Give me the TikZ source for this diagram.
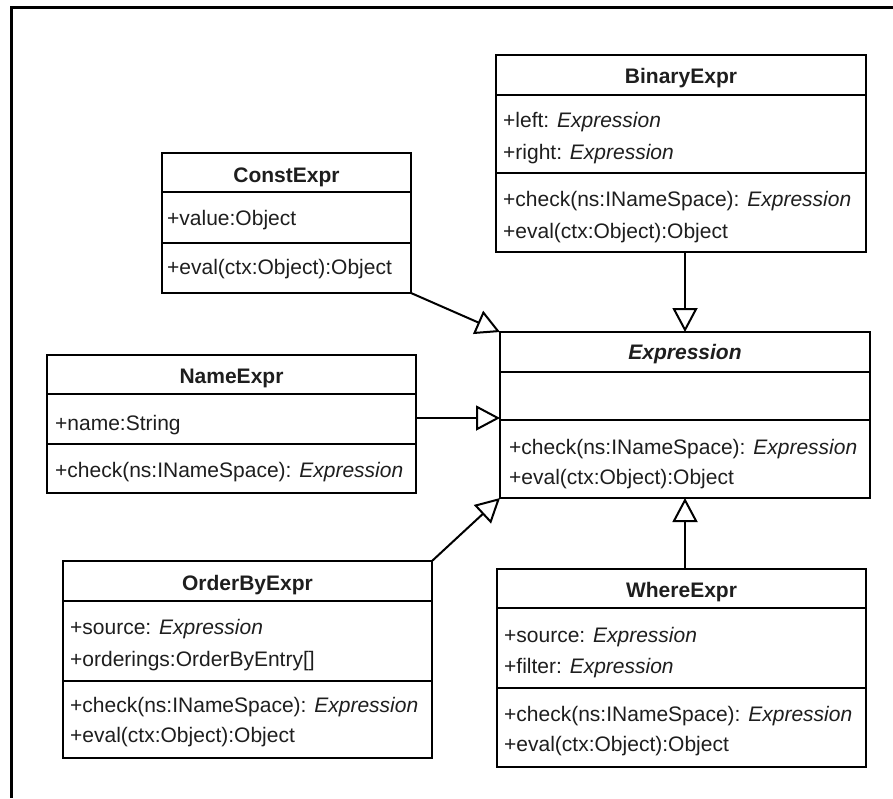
\documentclass[tikz,border=0pt]{standalone}
\usepackage{fontspec}
\setmainfont{Liberation Sans}
\usetikzlibrary{arrows.meta,calc}
\definecolor{textgray}{HTML}{1E1E1E}
\begin{document}
\begin{tikzpicture}[x=1pt,y=-1pt,
  classbox/.style={draw=black, line width=2pt, inner sep=0pt, outer sep=0pt,
    anchor=north west, fill=white},
  divider/.style={draw=black, line width=2pt},
  classname/.style={anchor=base, inner sep=0pt,
    font=\fontsize{21}{25}\selectfont\bfseries, text=textgray},
  member/.style={anchor=base west, inner sep=0pt,
    font=\fontsize{21}{25}\selectfont, text=textgray},
  inherit/.style={draw=black, line width=2pt,
    -{Triangle[open,length=24pt,width=25pt]}},
  frameline/.style={draw=black, line width=3.5pt}
]
\useasboundingbox (0,0) rectangle (893,798);

% outer frame
\draw[frameline] (893,7.5) -- (11.5,7.5) -- (11.5,798);

% ---------- BinaryExpr ----------
\node[classbox, minimum width=370pt, minimum height=197pt] (binary) at (496,55) {};
\draw[divider] (binary.west |- 0,95) -- (binary.east |- 0,95);
\draw[divider] (binary.west |- 0,173) -- (binary.east |- 0,173);
\node[classname] (binaryTitle) at (binary.north |- 0,83) {BinaryExpr};
\node[member] (binaryLeft)  at (503,127.5) {+left: \textit{Expression}};
\node[member] (binaryRight) at (503,159.5) {+right: \textit{Expression}};
\node[member] (binaryCheck) at (503,206)   {+check(ns:INameSpace): \textit{Expression}};
\node[member] (binaryEval)  at (503,238)   {+eval(ctx:Object):Object};

% ---------- ConstExpr ----------
\node[classbox, minimum width=249pt, minimum height=140pt] (const) at (162,153) {};
\draw[divider] (const.west |- 0,192) -- (const.east |- 0,192);
\draw[divider] (const.west |- 0,243) -- (const.east |- 0,243);
\node[classname] (constTitle) at (const.north |- 0,182.5) {ConstExpr};
\node[member] (constValue) at (167,225.5) {+value:Object};
\node[member] (constEval)  at (167,274.5) {+eval(ctx:Object):Object};

% ---------- NameExpr ----------
\node[classbox, minimum width=369pt, minimum height=138pt] (name) at (47,355) {};
\draw[divider] (name.west |- 0,394) -- (name.east |- 0,394);
\draw[divider] (name.west |- 0,444) -- (name.east |- 0,444);
\node[classname] (nameTitle) at (name.north |- 0,383.5) {NameExpr};
\node[member] (nameName)  at (55,430.5) {+name:String};
\node[member] (nameCheck) at (55,477.5) {+check(ns:INameSpace): \textit{Expression}};

% ---------- Expression ----------
\node[classbox, minimum width=370pt, minimum height=166pt] (expr) at (500,332) {};
\draw[divider] (expr.west |- 0,372) -- (expr.east |- 0,372);
\draw[divider] (expr.west |- 0,420) -- (expr.east |- 0,420);
\node[classname] (exprTitle) at (expr.north |- 0,359.5) {\textit{Expression}};
\node[member] (exprCheck) at (509,454.5) {+check(ns:INameSpace): \textit{Expression}};
\node[member] (exprEval)  at (509,484.5) {+eval(ctx:Object):Object};

% ---------- OrderByExpr ----------
\node[classbox, minimum width=369pt, minimum height=197pt] (order) at (63,561) {};
\draw[divider] (order.west |- 0,601) -- (order.east |- 0,601);
\draw[divider] (order.west |- 0,681) -- (order.east |- 0,681);
\node[classname] (orderTitle) at (order.north |- 0,590.5) {OrderByExpr};
\node[member] (orderSource)    at (70,634.5) {+source: \textit{Expression}};
\node[member] (orderOrderings) at (70,666.5) {+orderings:OrderByEntry[]};
\node[member] (orderCheck)     at (70,712.5) {+check(ns:INameSpace): \textit{Expression}};
\node[member] (orderEval)      at (70,742)   {+eval(ctx:Object):Object};

% ---------- WhereExpr ----------
\node[classbox, minimum width=369pt, minimum height=198pt] (where) at (497,569) {};
\draw[divider] (where.west |- 0,608) -- (where.east |- 0,608);
\draw[divider] (where.west |- 0,688) -- (where.east |- 0,688);
\node[classname] (whereTitle) at (where.north |- 0,597.5) {WhereExpr};
\node[member] (whereSource) at (504,642.5) {+source: \textit{Expression}};
\node[member] (whereFilter) at (504,673.5) {+filter: \textit{Expression}};
\node[member] (whereCheck)  at (504,721.5) {+check(ns:INameSpace): \textit{Expression}};
\node[member] (whereEval)   at (504,751.5) {+eval(ctx:Object):Object};

% ---------- generalisations ----------
\draw[inherit] (expr.north |- binary.south) -- (expr.north);
\draw[inherit] (expr.south |- where.north) -- (expr.south);
\draw[inherit] (const.south east) -- (expr.north west);
\coordinate (nameOut) at ([yshift=6pt]name.east);
\draw[inherit] (nameOut) -- (nameOut -| expr.west);
\draw[inherit] (order.north east) -- (expr.south west);
\end{tikzpicture}
\end{document}
